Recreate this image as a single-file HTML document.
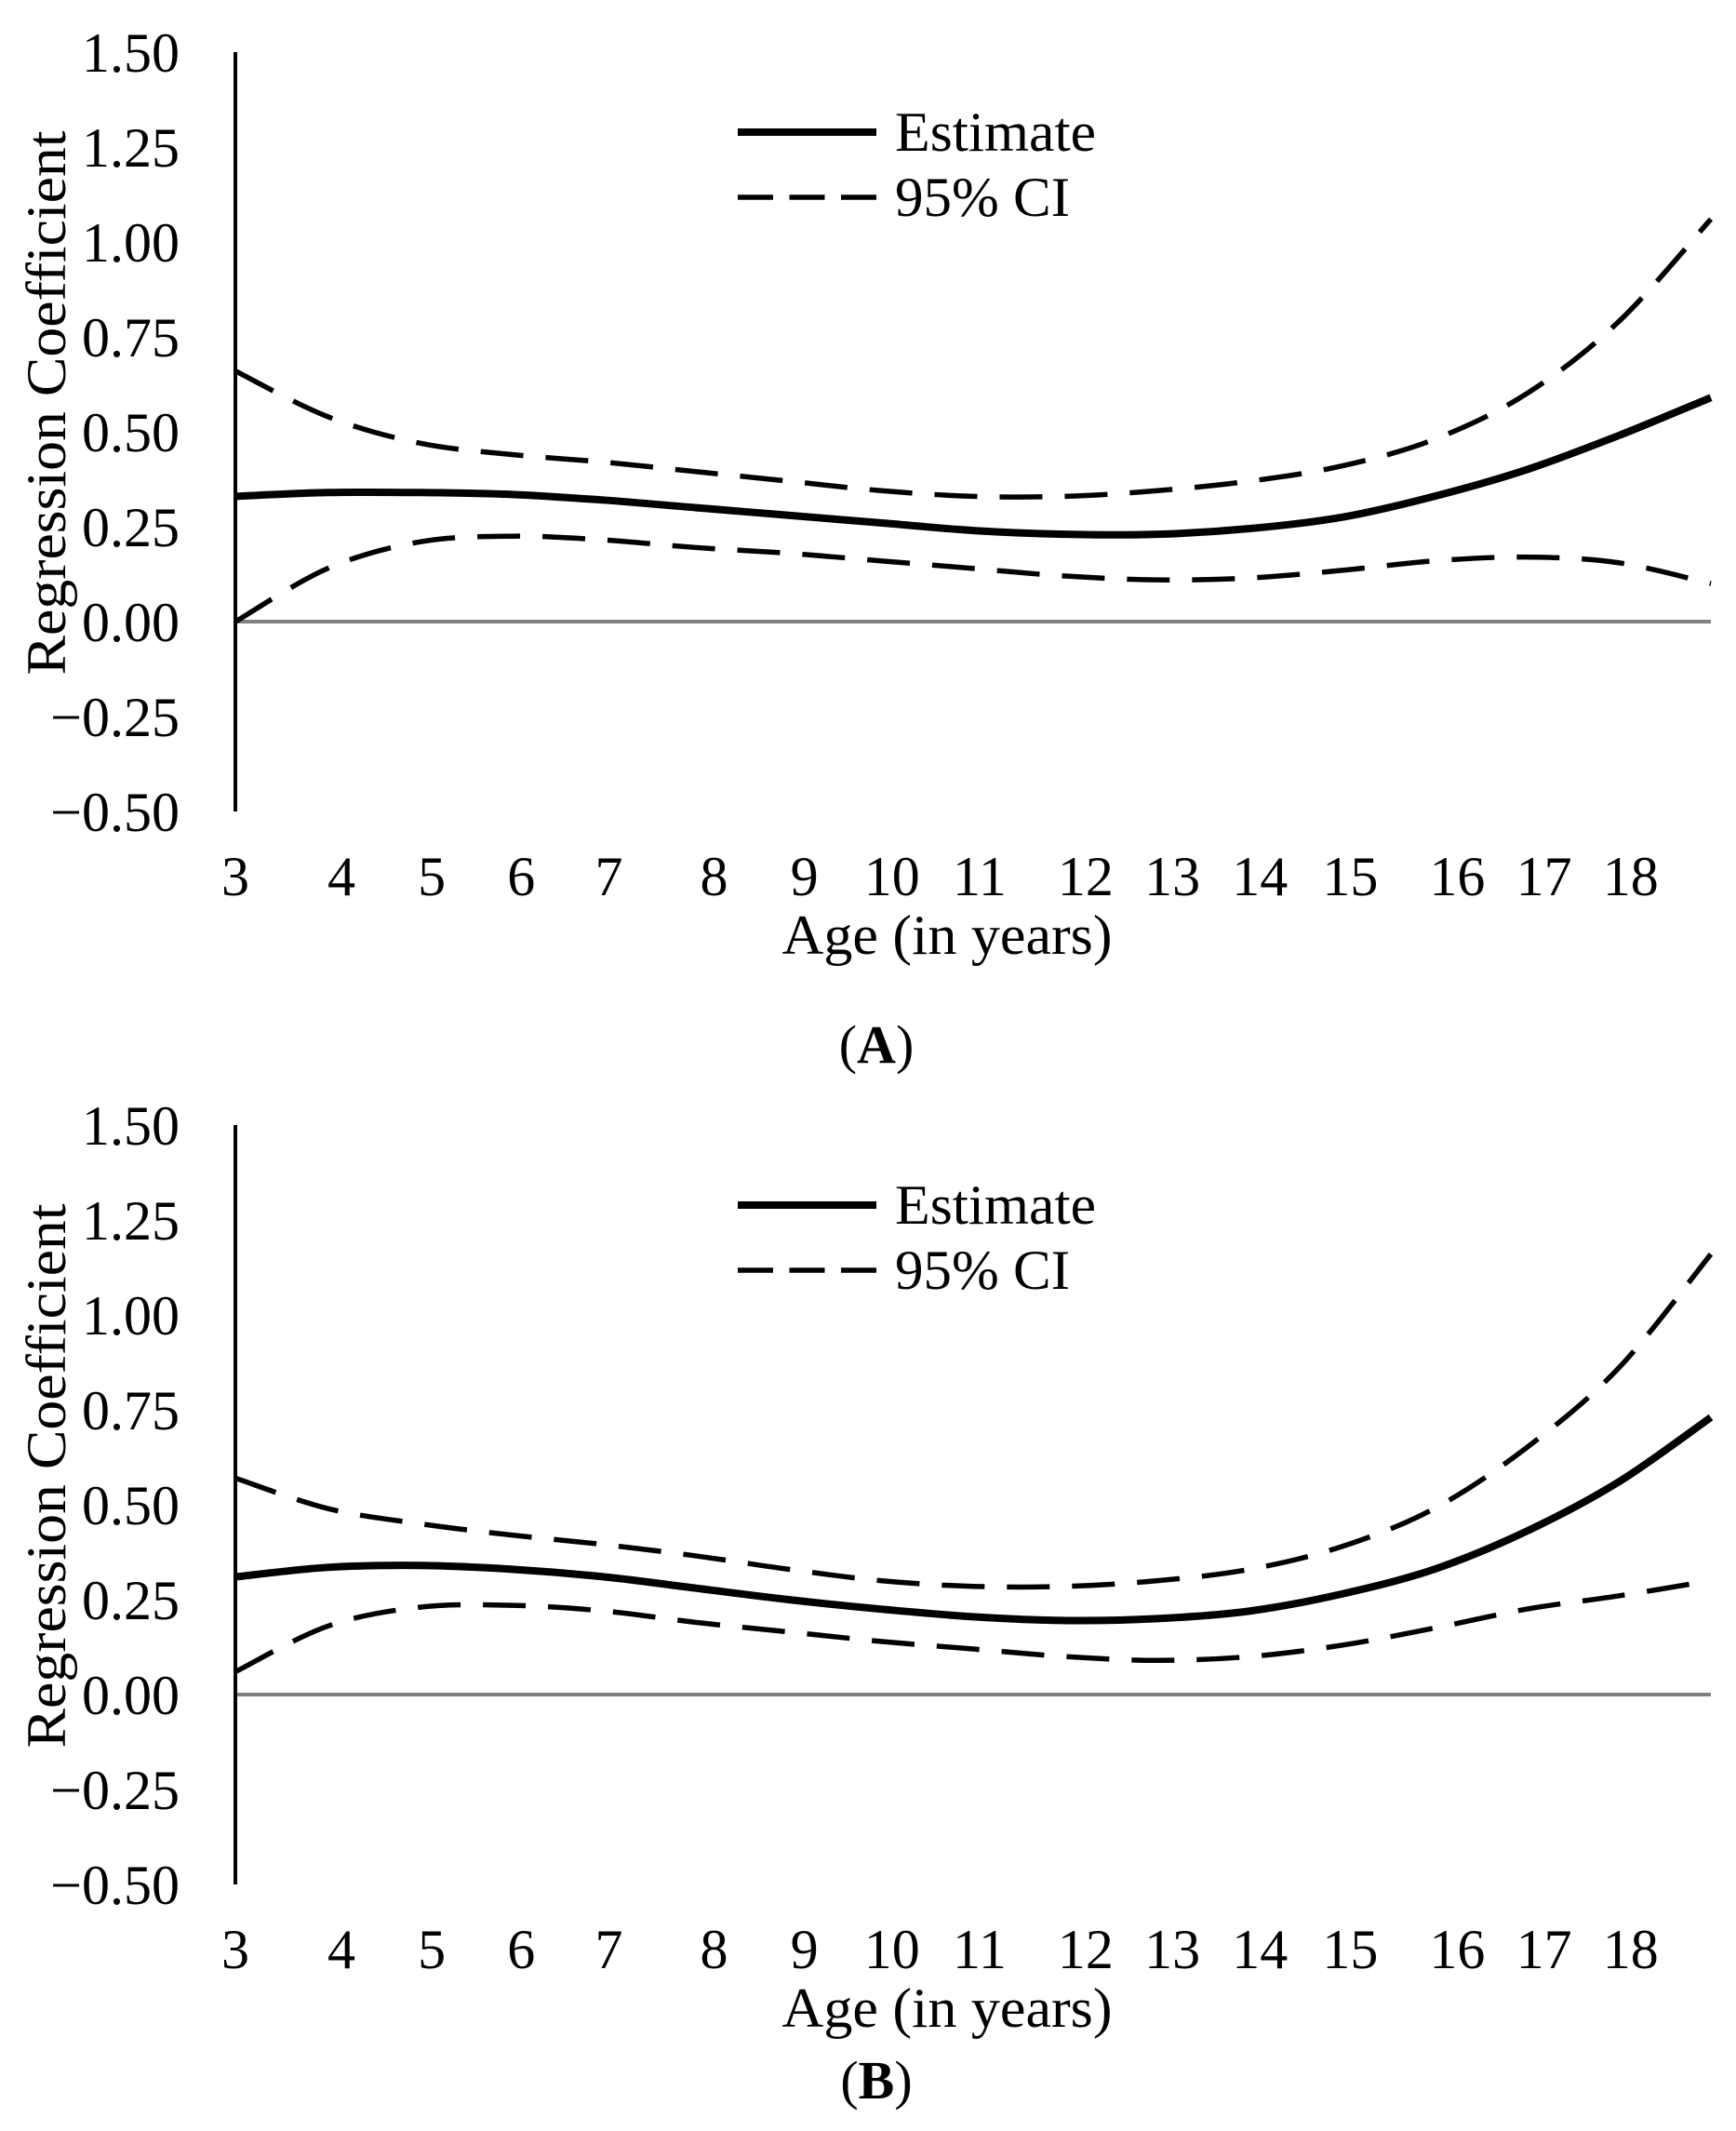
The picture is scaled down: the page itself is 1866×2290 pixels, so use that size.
<!DOCTYPE html>
<html><head><meta charset="utf-8"><style>
html,body{margin:0;padding:0;background:#fff;}
svg{display:block;font-family:"Liberation Serif",serif;}
</style></head><body>
<svg id="chart" width="1866" height="2290" viewBox="0 0 1866 2290"></svg>
<script>
const ages = [3,4,5,6,7,8,9,10,11,12,13,14,15,16,17,18,19];
const estA = [0.33,0.34,0.34,0.335,0.32,0.30,0.28,0.26,0.24,0.23,0.23,0.245,0.275,0.33,0.40,0.49,0.59];
const upA  = [0.66,0.54,0.47,0.44,0.42,0.395,0.37,0.345,0.33,0.33,0.345,0.37,0.41,0.48,0.60,0.79,1.06];
const loA  = [0.0,0.14,0.21,0.225,0.215,0.195,0.18,0.16,0.14,0.12,0.11,0.115,0.135,0.16,0.17,0.155,0.10];
const estB = [0.31,0.335,0.34,0.33,0.31,0.28,0.25,0.225,0.205,0.195,0.20,0.22,0.265,0.33,0.43,0.56,0.73];
const upB  = [0.57,0.49,0.45,0.42,0.395,0.365,0.33,0.30,0.285,0.285,0.30,0.33,0.39,0.49,0.65,0.86,1.16];
const loB  = [0.06,0.18,0.23,0.235,0.22,0.19,0.165,0.14,0.12,0.10,0.09,0.10,0.13,0.175,0.225,0.26,0.30];
const yTicks = [1.5,1.25,1.0,0.75,0.5,0.25,0,-0.25,-0.5];
const yTickLabels = ["1.50","1.25","1.00","0.75","0.50","0.25","0.00","\u22120.25","\u22120.50"];
const xTickAges = [3,4.15,5.13,6.1,7.05,8.19,9.17,10.12,11.07,12.22,13.16,14.11,15.09,16.25,17.19,18.13];
const xTickLabels = ["3","4","5","6","7","8","9","10","11","12","13","14","15","16","17","18"];

const NS="http://www.w3.org/2000/svg";
const svg=document.getElementById('chart');
function mk(tag,attrs,parent){const e=document.createElementNS(NS,tag);for(const k in attrs)e.setAttribute(k,attrs[k]);parent.appendChild(e);return e;}
const X0=253,X1=1839;
function xs(a){return X0+(a-3)*(X1-X0)/16;}
function path(vals,ys){
  const p=vals.map((v,i)=>[xs(ages[i]),ys(v)]);
  let d='M'+p[0][0]+','+p[0][1];
  for(let i=0;i<p.length-1;i++){
    const p0=p[Math.max(0,i-1)],p1=p[i],p2=p[i+1],p3=p[Math.min(p.length-1,i+2)];
    const c1=[p1[0]+(p2[0]-p0[0])/6,p1[1]+(p2[1]-p0[1])/6];
    const c2=[p2[0]-(p3[0]-p1[0])/6,p2[1]-(p3[1]-p1[1])/6];
    d+=` C${c1[0]},${c1[1]} ${c2[0]},${c2[1]} ${p2[0]},${p2[1]}`;
  }
  return d;
}
function panel(off,est,up,lo,letter){
  const g=mk('g',{},svg);
  
  
  const ys=v=>off+56+(1.5-v)*408;
  yTicks.forEach((t,i)=>{
    const tl=mk('text',{x:193,y:ys(t)+21,'text-anchor':'end','font-size':60,fill:'#000'},g);
    tl.textContent=yTickLabels[i];
    
    
  });
  const yt=mk('text',{transform:`translate(70,${off+433}) rotate(-90)`,'text-anchor':'middle','font-size':60,fill:'#000',textLength:585,lengthAdjust:'spacingAndGlyphs'},g);
  yt.textContent='Regression Coefficient';
  
  
  const zl=mk('line',{x1:X0,x2:X1,y1:ys(0),y2:ys(0),stroke:'#808080','stroke-width':4},g);
  
  
  const ax=mk('line',{x1:X0,x2:X0,y1:ys(1.5),y2:ys(-0.5),stroke:'#000','stroke-width':4},g);
  
  
  xTickAges.forEach((a,i)=>{
    const t=mk('text',{x:xs(a),y:off+962,'text-anchor':'middle','font-size':60,fill:'#000'},g);
    t.textContent=xTickLabels[i];
    
    
  });
  const xt=mk('text',{x:1018,y:off+1025,'text-anchor':'middle','font-size':60,fill:'#000',textLength:355,lengthAdjust:'spacingAndGlyphs'},g);
  xt.textContent='Age (in years)';
  
  
  const u=mk('path',{d:path(up,ys),fill:'none',stroke:'#000','stroke-width':5.5,'stroke-dasharray':'46 24'},g);
  
  
  const l=mk('path',{d:path(lo,ys),fill:'none',stroke:'#000','stroke-width':5.5,'stroke-dasharray':'46 24'},g);
  
  
  const e=mk('path',{d:path(est,ys),fill:'none',stroke:'#000','stroke-width':8},g);
  
  
  const le1=mk('line',{x1:793,x2:942,y1:off+142,y2:off+142,stroke:'#000','stroke-width':8},g);
  
  
  const lt1=mk('text',{x:962,y:off+162,'font-size':60,fill:'#000',textLength:216,lengthAdjust:'spacingAndGlyphs'},g);
  lt1.textContent='Estimate';
  
  
  const le2=mk('line',{x1:793,x2:942,y1:off+212,y2:off+212,stroke:'#000','stroke-width':5.5,'stroke-dasharray':'38 17.5'},g);
  
  
  const lt2=mk('text',{x:962,y:off+232,'font-size':60,fill:'#000',textLength:188,lengthAdjust:'spacingAndGlyphs'},g);
  lt2.textContent='95% CI';
  
  
}
panel(0,estA,upA,loA,'A');
panel(1153,estB,upB,loB,'B');
function cap(y,letter){
  const t=mk('text',{x:942,y:y,'text-anchor':'middle','font-size':58,fill:'#000'},svg);
  
  
  const a=mk('tspan',{},t);a.textContent='(';
  const b=mk('tspan',{'font-weight':'bold'},t);b.textContent=letter;
  const c=mk('tspan',{},t);c.textContent=')';
}
cap(1142,'A');
cap(2255,'B');
</script>
</body></html>
